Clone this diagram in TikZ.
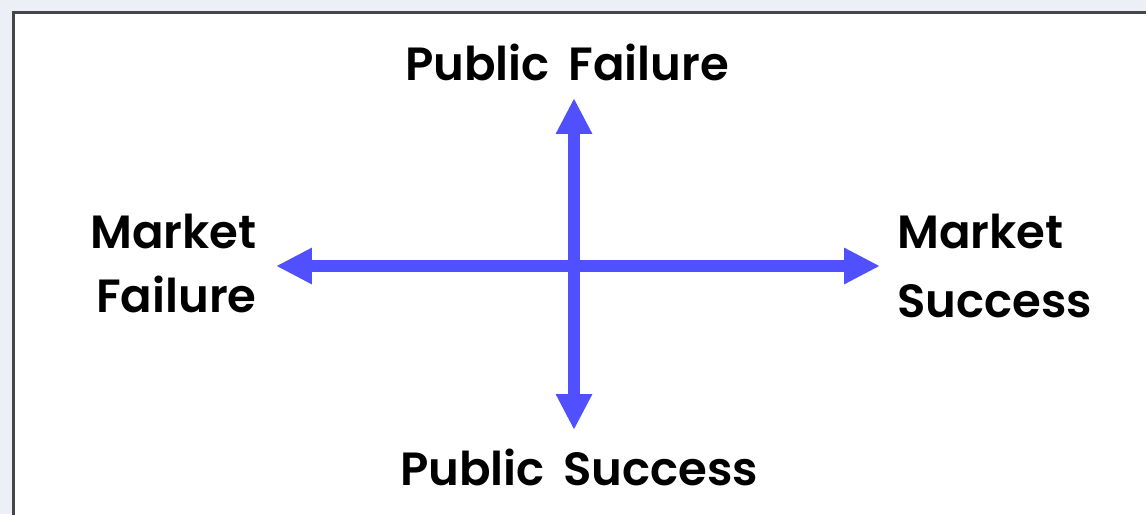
\documentclass[tikz,border=0pt]{standalone}
\usepackage{fontspec}
\setmainfont{Poppins}
\newfontfamily\lblfont{Poppins SemiBold}
\usetikzlibrary{arrows.meta}
\definecolor{axisblue}{RGB}{80,80,255}
\definecolor{pagebg}{RGB}{236,239,246}
\definecolor{frameline}{RGB}{70,70,74}

\begin{document}
\begin{tikzpicture}[x=0.02cm,y=-0.02cm,
  axis/.style={axisblue,line width=0.24cm,
    {Triangle[length=0.72cm,width=0.68cm]}-{Triangle[length=0.72cm,width=0.68cm]}},
  lbl/.style={font=\lblfont\fontsize{26.5}{30}\selectfont,inner sep=0pt}]
\useasboundingbox (0,0) rectangle (1146,514);
\clip (0,0) rectangle (1146,514);
\fill[pagebg] (0,0) rectangle (1146,514);
\draw[frameline,fill=white,line width=3.5*0.02cm] (13.5,12.5) rectangle (1170,540);
\coordinate (W) at (276,266);
\coordinate (E) at (880,266);
\coordinate (N) at (574,98);
\coordinate (S) at (574,430);
\draw[axis] (W) -- (E);
\draw[axis] (N) -- (S);
\node[lbl,anchor=base] (pf) at (567,80) {Public\hspace{0.4em}Failure};
\node[lbl,anchor=base] (ps) at (579,485) {Public\hspace{0.4em}Success};
\node[lbl,anchor=north east,align=right] (mf) at (257,214) {Market\\[6pt]Failure};
\node[lbl,anchor=north west,align=left] (ms) at (897,214) {Market\\[9pt]Success};
\end{tikzpicture}
\end{document}
